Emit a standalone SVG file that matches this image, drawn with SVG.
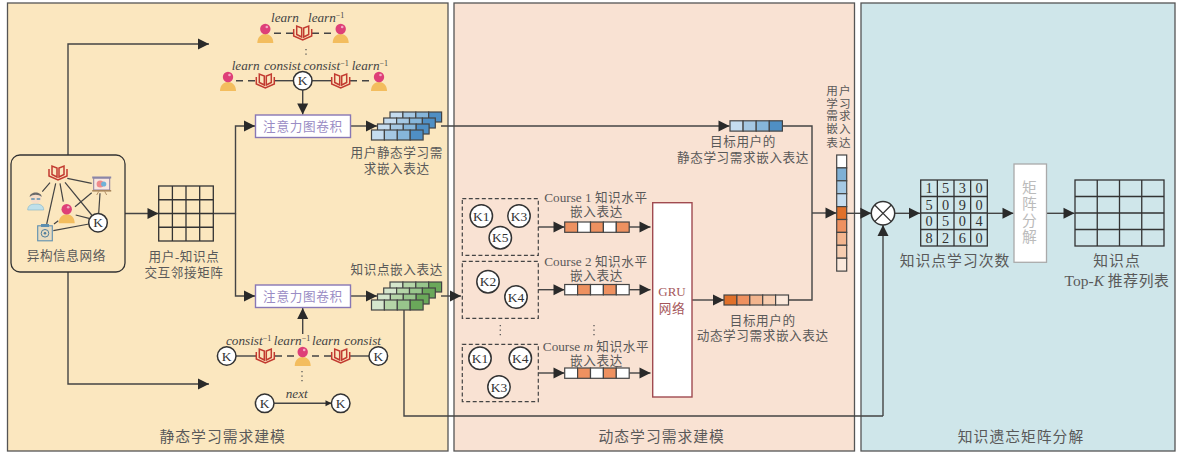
<svg xmlns="http://www.w3.org/2000/svg" width="1177" height="452" viewBox="0 0 1177 452">
<style>
text{font-family:"Liberation Serif","Noto Sans CJK SC",serif;fill:#595959}
.t{font-size:12.6px;letter-spacing:.6px;text-anchor:middle}
.la{font-size:13.2px;letter-spacing:0}
.v{font-size:11.6px;letter-spacing:1.2px;text-anchor:middle}
.h{font-size:14.8px;letter-spacing:1px;text-anchor:middle}
.i{font-size:13.2px;font-style:italic;fill:#444}
.sup{font-size:8px;font-style:normal}
.k{font-size:13.5px;text-anchor:middle;fill:#333}
.n{font-size:14.3px;text-anchor:middle;fill:#333}
.panel{stroke:#555;stroke-width:1.3}
.c{fill:none;stroke:#444;stroke-width:1.4}
.d{stroke-dasharray:7 5}
.a{marker-end:url(#ar)}
.as{marker-end:url(#ars)}
.circ{fill:#fff;stroke:#333;stroke-width:1.5}
.cell{stroke:#444;stroke-width:1.2}
.grid{fill:none;stroke:#333;stroke-width:1.3}
.dash{fill:none;stroke:#444;stroke-width:1.2;stroke-dasharray:4 2.5}
.gcn{fill:#fff;stroke:#8877b5;stroke-width:1.4}
.gcnt{font-size:12.6px;letter-spacing:.7px;text-anchor:middle;fill:#9a8cc4}
.dots{fill:none;stroke:#555;stroke-width:1.3;stroke-dasharray:1.3 3.2}
</style>
<defs>
<marker id="ar" markerUnits="userSpaceOnUse" markerWidth="12" markerHeight="12" refX="11.5" refY="6" orient="auto" viewBox="0 0 12 12"><path d="M0.5,0.5 L11.5,6 L0.5,11.5 Z" fill="#2a2a2a"/></marker>
<marker id="ars" markerUnits="userSpaceOnUse" markerWidth="7" markerHeight="7" refX="6.5" refY="3.5" orient="auto" viewBox="0 0 7 7"><path d="M0.5,0.5 L6.5,3.5 L0.5,6.5 Z" fill="#2a2a2a"/></marker>
<g id="book" fill="none" stroke="#c23a30" stroke-width="1.5">
<path d="M-9,-4 V3 L0,7 L9,3 V-4"/>
<path d="M-1,4 L-6,1.5 V-7 L-1,-5 Z"/>
<path d="M1,4 L6,1.5 V-7 L1,-5 Z"/>
</g>
<g id="user">
<path d="M-8,10 C-8,4 -4,1 0,1 C4,1 8,4 8,10 Z" fill="#f3bd5e"/>
<circle cx="0" cy="-4" r="5.2" fill="#de3f78"/>
<circle cx="1.5" cy="-6" r="1.3" fill="#f3a9c4"/>
</g>
<g id="kn"><circle r="9.3" class="circ"/><text y="4.5" class="k">K</text></g>
<circle id="kb" r="11.2" class="circ"/>
<g id="lb">
<rect x="0" width="12.9" height="10" fill="#c5dcef" class="cell"/><rect x="12.9" width="12.9" height="10" fill="#a5c8e3" class="cell"/><rect x="25.8" width="12.9" height="10" fill="#86b6da" class="cell"/><rect x="38.7" width="12.9" height="10" fill="#4f8fc4" class="cell"/>
</g>
<g id="lg">
<rect x="0" width="12.9" height="10" fill="#d5e6cd" class="cell"/><rect x="12.9" width="12.9" height="10" fill="#b5d5a8" class="cell"/><rect x="25.8" width="12.9" height="10" fill="#98c68c" class="cell"/><rect x="38.7" width="12.9" height="10" fill="#6aa85a" class="cell"/>
</g>
<g id="vA">
<rect x="0" width="12.9" height="10.3" fill="#ee9160" class="cell"/><rect x="12.9" width="12.9" height="10.3" fill="#fff" class="cell"/><rect x="25.8" width="12.9" height="10.3" fill="#ee9160" class="cell"/><rect x="38.7" width="12.9" height="10.3" fill="#fff" class="cell"/><rect x="51.6" width="12.9" height="10.3" fill="#ee9160" class="cell"/>
</g>
<g id="vB">
<rect x="0" width="12.9" height="10.3" fill="#fff" class="cell"/><rect x="12.9" width="12.9" height="10.3" fill="#ee9160" class="cell"/><rect x="25.8" width="12.9" height="10.3" fill="#fff" class="cell"/><rect x="38.7" width="12.9" height="10.3" fill="#ee9160" class="cell"/><rect x="51.6" width="12.9" height="10.3" fill="#fff" class="cell"/>
</g>
</defs>

<g id="panels">
<rect x="7.5" y="3" width="440.5" height="448" fill="#fbe7bf" class="panel"/>
<rect x="454" y="3" width="400.5" height="448" fill="#f9e2d3" class="panel"/>
<rect x="861" y="3" width="314" height="448" fill="#cfe6ea" class="panel"/>
<text x="222.7" y="442" class="h">静态学习需求建模</text>
<text x="661.7" y="442" class="h">动态学习需求建模</text>
<text x="1021" y="442" class="h">知识遗忘矩阵分解</text>
</g>

<g id="connectors">
<path class="c a" d="M68,155 V44 H209"/>
<path class="c a" d="M68,272 V384 H209"/>
<path class="c a" d="M121,213.5 H158.5"/>
<path class="c a" d="M213,213.5 H235.5 V126 H255"/>
<path class="c a" d="M235.5,213.5 V296 H255"/>
<path class="c a" d="M302.7,90 V114.5"/>
<path class="c a" d="M302.7,334 V308"/>
<path class="c a" d="M350.5,126 H377"/>
<path class="c a" d="M350.5,296 H377"/>
<path class="c a" d="M441,126 H729.5"/>
<path class="c a" d="M441,296 H461"/>
<path class="c" d="M782.5,126 H812 V300 H789"/>
<path class="c a" d="M692,300 H724"/>
<path class="c a" d="M812,213 H836.5"/>
<path class="c" d="M404,310 V416 H883"/>
<path class="c a" d="M883,416 V225"/>
<path class="c a" d="M847,213.3 H871.3"/>
<path class="c a" d="M894.7,213.3 H920"/>
<path class="c a" d="M987.5,213.3 H1013.5"/>
<path class="c a" d="M1046.5,213.3 H1074.5"/>
<path class="c a" d="M538.3,227 H564.5"/>
<path class="c a" d="M629,227 H650.5"/>
<path class="c a" d="M538.3,289.7 H564.5"/>
<path class="c a" d="M629,289.7 H650.5"/>
<path class="c a" d="M538.3,373 H564.5"/>
<path class="c a" d="M629,373 H650.5"/>
<path class="c d" d="M274,33.3 H294"/>
<path class="c d" d="M312,33.3 H333"/>
<path class="c d" d="M236,80.7 H256"/>
<path class="c" d="M274,80.7 H294"/>
<path class="c" d="M312,80.7 H332"/>
<path class="c d" d="M350,80.7 H371"/>
<path class="c" d="M236,356 H256"/>
<path class="c d" d="M275,356 H294"/>
<path class="c d" d="M312,356 H332"/>
<path class="c" d="M350,356 H369"/>
<path class="c as" d="M274,403.3 H331.5"/>
<path class="dots" d="M306,49 V58"/>
<path class="dots" d="M302,371 V382"/>
<path class="dots" d="M500.3,325 V336"/>
<path class="dots" d="M594,325 V336"/>
</g>

<g id="hetero-network">
<rect x="11" y="155" width="114" height="117" rx="9" fill="#fbe7bf" stroke="#333" stroke-width="1.3"/>
<path class="c" style="stroke-width:1.2" d="M50,182.7 L42.3,191.7 M67.3,178.3 L91.7,183.3 M65,182.3 L91.7,215 M60,183.3 L63.3,201.7 M55.7,183.3 L46.7,224 M91.7,192.7 L75,206.7 M100,193.3 L98.7,213.3 M75.7,215 L89,218.3 M54,224 L58.3,220.7 M53.3,230.7 L89,224"/>
<use href="#book" x="58" y="173"/>
<g id="teacher-icon" transform="translate(35.7,200)">
<path d="M-8,10 C-8,5 -4,4 0,4 C4,4 8,5 8,10 Z" fill="#bfe0ea" stroke="#7fb4c8" stroke-width="0.6"/>
<circle cy="-2" r="5.5" fill="#f6ddc8"/>
<path d="M-6,-3 C-6,-9 6,-9 6,-3 C3,-6 -3,-6 -6,-3 Z" fill="#6a6a6a"/>
<path d="M-4.5,-1 h3.5 M1,-1 h3.5" stroke="#5b8fb0" stroke-width="1.4"/>
</g>
<g id="slide-icon" transform="translate(101.7,185)">
<rect x="-8" y="-7" width="16" height="12" fill="#f8e6df" stroke="#8c7f9e" stroke-width="1"/>
<rect x="-9.5" y="-8.5" width="19" height="2" fill="#8a86a8"/>
<rect x="-9.5" y="5" width="19" height="1.6" fill="#a9865c"/>
<circle cx="-1.5" cy="-1" r="3.6" fill="#f08a8a"/>
<circle cx="2" cy="-1" r="2.6" fill="#6fb1d8"/>
<path d="M-3,6.5 L-5,10 M3,6.5 L5,10" stroke="#a9865c" stroke-width="0.9"/>
</g>
<use href="#user" x="66.7" y="213.3"/>
<g id="clipboard-icon" transform="translate(45,232.3)">
<rect x="-7.3" y="-6.5" width="14.6" height="15" fill="#e9dcc0" stroke="#5d8fb0" stroke-width="1.1"/>
<rect x="-4" y="-8.3" width="8" height="3" fill="#5d8fb0"/>
<circle cy="1" r="3.8" fill="none" stroke="#4f7d9c" stroke-width="1"/>
<circle cy="1" r="1.3" fill="#4f7d9c"/>
</g>
<use href="#kn" x="98" y="222.7"/>
<text x="66.3" y="260" class="t">异构信息网络</text>
</g>

<g id="adjacency-matrix">
<rect x="158.7" y="186" width="54.6" height="55" class="grid" style="fill:#fbe7bf"/>
<path class="grid" d="M172.4,186 V241 M186,186 V241 M199.7,186 V241 M158.7,199.75 H213.3 M158.7,213.5 H213.3 M158.7,227.25 H213.3"/>
<text x="184" y="260.5" class="t">用户-知识点</text>
<text x="184" y="276.5" class="t">交互邻接矩阵</text>
</g>

<g id="meta-path-top">
<text class="i" x="271" y="22">learn</text>
<text class="i" x="308" y="22">learn<tspan class="sup" dy="-4">−1</tspan></text>
<use href="#user" x="265.3" y="33"/>
<use href="#book" x="302.7" y="33"/>
<use href="#user" x="340.7" y="33"/>
<text class="i" x="231.7" y="70">learn</text>
<text class="i" x="264" y="70">consist</text>
<text class="i" x="303.5" y="70">consist<tspan class="sup" dy="-4">−1</tspan></text>
<text class="i" x="351.7" y="70">learn<tspan class="sup" dy="-4">−1</tspan></text>
<use href="#user" x="228" y="81"/>
<use href="#book" x="265.3" y="81"/>
<use href="#kn" x="302.7" y="80.7"/>
<use href="#book" x="340.7" y="81"/>
<use href="#user" x="379" y="81"/>
</g>

<g id="gcn-top">
<rect x="255.5" y="115" width="95" height="22.5" class="gcn"/>
<text x="303" y="131" class="gcnt">注意力图卷积</text>
</g>
<g id="gcn-bottom">
<rect x="255.5" y="285" width="95" height="22.5" class="gcn"/>
<text x="303" y="301" class="gcnt">注意力图卷积</text>
</g>

<g id="user-stack">
<use href="#lb" x="390" y="112"/>
<use href="#lb" x="383.7" y="118"/>
<use href="#lb" x="377.5" y="124"/>
<use href="#lb" x="371.5" y="130"/>
<text x="396.7" y="157" class="t">用户静态学习需</text>
<text x="396.7" y="172.5" class="t">求嵌入表达</text>
</g>
<g id="knowledge-stack">
<use href="#lg" x="390" y="282"/>
<use href="#lg" x="383.7" y="288"/>
<use href="#lg" x="377.5" y="294"/>
<use href="#lg" x="371.5" y="300"/>
<text x="396.7" y="274" class="t">知识点嵌入表达</text>
</g>

<g id="meta-path-bottom">
<text class="i" x="226" y="344.5">consist<tspan class="sup" dy="-4">−1</tspan></text>
<text class="i" x="273.8" y="344.5">learn<tspan class="sup" dy="-4">−1</tspan></text>
<text class="i" x="312" y="344.5">learn</text>
<text class="i" x="344.3" y="344.5">consist</text>
<use href="#kn" x="226.7" y="356"/>
<use href="#book" x="265.3" y="356"/>
<use href="#user" x="302.7" y="356"/>
<use href="#book" x="340.7" y="356"/>
<use href="#kn" x="378.3" y="356"/>
<text class="i" x="296.7" y="397.5" text-anchor="middle">next</text>
<use href="#kn" x="264.7" y="403.3"/>
<use href="#kn" x="340.7" y="403.3"/>
</g>

<g id="course-1">
<rect x="462.3" y="198.7" width="76" height="56.6" class="dash"/>
<use href="#kb" x="481.3" y="216"/><text x="481.3" y="220.5" class="k">K1</text>
<use href="#kb" x="519" y="216"/><text x="519" y="220.5" class="k">K3</text>
<use href="#kb" x="500.3" y="237.7"/><text x="500.3" y="242.2" class="k">K5</text>
</g>
<g id="course-1-label">
<text x="596" y="202" class="t"><tspan class="la">Course 1 </tspan>知识水平</text>
<text x="596.5" y="216.3" class="t">嵌入表达</text>
<use href="#vA" x="564.7" y="222"/>
</g>
<g id="course-2">
<rect x="462.3" y="261.3" width="76" height="57" class="dash"/>
<use href="#kb" x="488" y="281.7"/><text x="488" y="286.2" class="k">K2</text>
<use href="#kb" x="516" y="297"/><text x="516" y="301.5" class="k">K4</text>
</g>
<g id="course-2-label">
<text x="596" y="266" class="t"><tspan class="la">Course 2 </tspan>知识水平</text>
<text x="596.5" y="279.6" class="t">嵌入表达</text>
<use href="#vB" x="564.7" y="284.5"/>
</g>
<g id="course-m">
<rect x="462.3" y="344.3" width="76" height="57.4" class="dash"/>
<use href="#kb" x="480" y="358.3"/><text x="480" y="362.8" class="k">K1</text>
<use href="#kb" x="520.3" y="358.3"/><text x="520.3" y="362.8" class="k">K4</text>
<use href="#kb" x="499" y="387"/><text x="499" y="391.5" class="k">K3</text>
</g>
<g id="course-m-label">
<text x="596" y="351" class="t"><tspan class="la">Course <tspan font-style="italic">m</tspan> </tspan>知识水平</text>
<text x="596.5" y="364.8" class="t">嵌入表达</text>
<use href="#vB" x="564.7" y="368"/>
</g>

<g id="gru">
<rect x="652.7" y="202.7" width="39.3" height="194.3" fill="#fff" stroke="#a04a50" stroke-width="1.4"/>
<text x="672" y="296" class="t" style="fill:#a5565a;letter-spacing:0;font-size:13px">GRU</text>
<text x="672" y="313" class="t" style="fill:#a5565a">网络</text>
</g>

<g id="static-vector">
<rect x="730" y="120.8" width="13.1" height="10.3" fill="#c5dcef" class="cell"/><rect x="743.1" y="120.8" width="13.1" height="10.3" fill="#a5c8e3" class="cell"/><rect x="756.2" y="120.8" width="13.1" height="10.3" fill="#86b6da" class="cell"/><rect x="769.3" y="120.8" width="13.1" height="10.3" fill="#4f8fc4" class="cell"/>
<text x="743" y="146" class="t">目标用户的</text>
<text x="743" y="162" class="t">静态学习需求嵌入表达</text>
</g>
<g id="dynamic-vector">
<rect x="724" y="295" width="12.9" height="10" fill="#e0702a" class="cell"/><rect x="736.9" y="295" width="12.9" height="10" fill="#ee9160" class="cell"/><rect x="749.8" y="295" width="12.9" height="10" fill="#f3b58e" class="cell"/><rect x="762.7" y="295" width="12.9" height="10" fill="#f7cdb0" class="cell"/><rect x="775.6" y="295" width="12.9" height="10" fill="#fbe9dc" class="cell"/>
<text x="762.7" y="325" class="t">目标用户的</text>
<text x="762.7" y="340" class="t">动态学习需求嵌入表达</text>
</g>

<g id="combined-vector">
<text x="839" y="95" class="v">用户</text>
<text x="839" y="107.7" class="v">学习</text>
<text x="839" y="120.3" class="v">需求</text>
<text x="839" y="133" class="v">嵌入</text>
<text x="839" y="146.5" class="v">表达</text>
<rect x="836.7" y="155" width="10" height="12.9" fill="#fff" class="cell"/>
<rect x="836.7" y="167.9" width="10" height="12.9" fill="#7fb0d5" class="cell"/>
<rect x="836.7" y="180.8" width="10" height="12.9" fill="#a5c8e3" class="cell"/>
<rect x="836.7" y="193.7" width="10" height="12.9" fill="#c5dcef" class="cell"/>
<rect x="836.7" y="206.6" width="10" height="12.9" fill="#e0702a" class="cell"/>
<rect x="836.7" y="219.5" width="10" height="12.9" fill="#ee9160" class="cell"/>
<rect x="836.7" y="232.4" width="10" height="12.9" fill="#f3b58e" class="cell"/>
<rect x="836.7" y="245.3" width="10" height="12.9" fill="#f7cdb0" class="cell"/>
<rect x="836.7" y="258.2" width="10" height="12.9" fill="#fbe9dc" class="cell"/>
</g>

<g id="multiply">
<circle cx="883" cy="213.3" r="11.7" class="circ"/>
<path d="M874.7,205 L891.3,221.6 M891.3,205 L874.7,221.6" stroke="#333" stroke-width="1.3"/>
</g>

<g id="count-matrix">
<rect x="920.7" y="180" width="66.6" height="66" class="grid"/>
<path class="grid" d="M937.35,180 V246 M954,180 V246 M970.65,180 V246 M920.7,196.5 H987.3 M920.7,213 H987.3 M920.7,229.5 H987.3"/>
<text class="n" x="929" y="193">1</text><text class="n" x="945.7" y="193">5</text><text class="n" x="962.3" y="193">3</text><text class="n" x="979" y="193">0</text>
<text class="n" x="929" y="209.5">5</text><text class="n" x="945.7" y="209.5">0</text><text class="n" x="962.3" y="209.5">9</text><text class="n" x="979" y="209.5">0</text>
<text class="n" x="929" y="226">0</text><text class="n" x="945.7" y="226">5</text><text class="n" x="962.3" y="226">0</text><text class="n" x="979" y="226">4</text>
<text class="n" x="929" y="242.5">8</text><text class="n" x="945.7" y="242.5">2</text><text class="n" x="962.3" y="242.5">6</text><text class="n" x="979" y="242.5">0</text>
<text x="955" y="266.3" class="h">知识点学习次数</text>
</g>

<g id="matrix-factorization">
<rect x="1014" y="164" width="32.5" height="98.3" fill="#fff" stroke="#aaa" stroke-width="1.3"/>
<text x="1029.3" y="193" class="h" style="fill:#bbb;letter-spacing:0">矩</text>
<text x="1029.3" y="209" class="h" style="fill:#bbb;letter-spacing:0">阵</text>
<text x="1029.3" y="226" class="h" style="fill:#bbb;letter-spacing:0">分</text>
<text x="1029.3" y="242" class="h" style="fill:#bbb;letter-spacing:0">解</text>
</g>

<g id="topk-list">
<rect x="1075" y="180" width="89" height="66" class="grid"/>
<path class="grid" d="M1097.25,180 V246 M1119.5,180 V246 M1141.75,180 V246 M1075,196.5 H1164 M1075,213 H1164 M1075,229.5 H1164"/>
<text x="1117" y="266.3" class="h">知识点</text>
<text x="1117" y="286" class="h" style="letter-spacing:.6px"><tspan style="font-size:15.5px;letter-spacing:0">Top-<tspan font-style="italic">K</tspan> </tspan>推荐列表</text>
</g>
</svg>
